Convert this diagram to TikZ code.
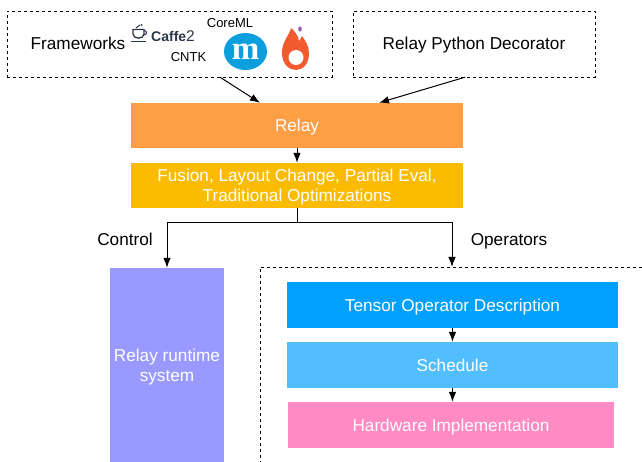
\documentclass[tikz,border=0pt]{standalone}
\usepackage{fontspec}
\setmainfont{Liberation Sans}
\newfontfamily\logofont{Liberation Serif}
\usetikzlibrary{arrows.meta,shapes.geometric}
\definecolor{relayc}{HTML}{FF9F45}
\definecolor{fusionc}{HTML}{FABB00}
\definecolor{runtimec}{HTML}{9999FF}
\definecolor{tensorc}{HTML}{00A0FF}
\definecolor{schedc}{HTML}{52BEFF}
\definecolor{hwc}{HTML}{FF8AC4}
\definecolor{mblue}{HTML}{0C9EDD}
\definecolor{flamec}{HTML}{F15A2C}
\definecolor{caffec}{HTML}{2B3648}
\definecolor{dropc}{HTML}{9B59B6}
\tikzset{
    box/.style={rectangle,inner sep=0pt,align=center,text=white,font=\fontsize{17.2}{20}\selectfont},
    oneline/.style={text height=13pt,text depth=1pt},
    twoline/.style={text depth=0pt},
    dashbox/.style={rectangle,draw,dashed,inner sep=0pt,align=center},
    lab/.style={inner sep=0pt,font=\fontsize{17.2}{20}\selectfont,text height=13pt,text depth=1pt},
    small/.style={inner sep=0pt,font=\fontsize{13}{15}\selectfont},
    arr/.style={-{Latex[length=10pt,width=7.5pt]},line width=1pt}
}
\begin{document}
\begin{tikzpicture}[x=1pt,y=-1pt]
    \useasboundingbox (0,0) rectangle (642,462);

    \node[dashbox,minimum width=325pt,minimum height=66pt] (frameworks) at (169.5,44) {};
    \node[dashbox,lab,minimum width=242pt,minimum height=66pt] (python) at (474,44) {Relay Python Decorator};

    \begin{scope}[every node/.append style={box}]
        \node[oneline,fill=relayc,minimum width=332pt,minimum height=45pt] (relay) at (297,125.5) {Relay};
        \node[twoline,fill=fusionc,minimum width=332pt,minimum height=45pt] (fusion) at (297,185.5) {Fusion, Layout Change, Partial Eval,\\Traditional Optimizations};
        \node[twoline,fill=runtimec,minimum width=114pt,minimum height=194pt] (runtime) at (167,365) {Relay runtime\\system};
        \node[oneline,fill=tensorc,minimum width=331pt,minimum height=46pt] (tensor) at (452.5,305) {Tensor Operator Description};
        \node[oneline,fill=schedc,minimum width=331pt,minimum height=46pt] (schedule) at (452.5,365) {Schedule};
        \node[oneline,fill=hwc,minimum width=326pt,minimum height=46pt] (hardware) at (451,425) {Hardware Implementation};
    \end{scope}

    % open frame round the operator boxes
    \coordinate (opstop) at (452,267);
    \draw[dashed] (642,267) -- (260,267) -- (260,462);

    \node[lab] (frameworkslab) at (78,44) {Frameworks};
    \node[lab] (control) at (125,240) {Control};
    \node[lab] (operators) at (509,240) {Operators};
    \node[small] (coreml) at (230,23.5) {CoreML};
    \node[small] (cntk) at (188.5,57.5) {CNTK};

    % caffe2 logo
    \node[inner sep=0pt,anchor=west,text=caffec,font=\fontsize{14}{15}\selectfont\bfseries] (caffe) at (151,36) {Caffe\fontsize{15.5}{15}\selectfont\mdseries 2};
    \draw[caffec,line width=1.3pt] (133,29.5) -- (133,34) .. controls (133,39.5) and (144,39.5) .. (144,34) -- (144,29.5) -- cycle;
    \draw[caffec,line width=1pt] (144,30.5) .. controls (147.5,30.5) and (147.5,35) .. (143.5,35);
    \draw[caffec,line width=1.3pt] (131,41.5) -- (146,41.5);
    \draw[caffec,line width=1pt] (136,28) -- (140,25);
    \fill[caffec] (141.5,25) circle (1pt);

    % mxnet logo
    \node[ellipse,fill=mblue,minimum width=43pt,minimum height=37pt,inner sep=0pt,text=white,
        font=\fontsize{33}{33}\logofont\bfseries] (mlogo) at (245.5,51.5) {m};

    % flame logo
    \fill[flamec] (291,28) .. controls (289,36) and (282,41) .. (282,53)
        .. controls (282,64) and (289,70) .. (296,70)
        .. controls (303,70) and (309,64) .. (309,53)
        .. controls (309,46) and (305,40) .. (302,36)
        .. controls (301,38) and (300,40) .. (299,41)
        .. controls (298,36) and (295,31) .. (291,28) -- cycle;
    \fill[white] (296,57.5) circle (7.5pt);
    \fill[dropc] (300,29) ellipse (1.8pt and 2.6pt);

    \path [arr] ([xshift=50.5pt]frameworks.south) edge ([xshift=-37pt]relay.north);
    \path [arr] ([xshift=-9pt]python.south) edge ([xshift=82pt]relay.north);
    \path [arr] (relay) edge (fusion);
    \draw [arr] (fusion.south) -- ++(0,14) -| (runtime.north);
    \draw [arr] (fusion.south) -- ++(0,14) -| (opstop);
    \path [arr] (tensor) edge (schedule);
    \path [arr] (schedule.south) edge (schedule.south |- hardware.north);

\end{tikzpicture}
\end{document}
